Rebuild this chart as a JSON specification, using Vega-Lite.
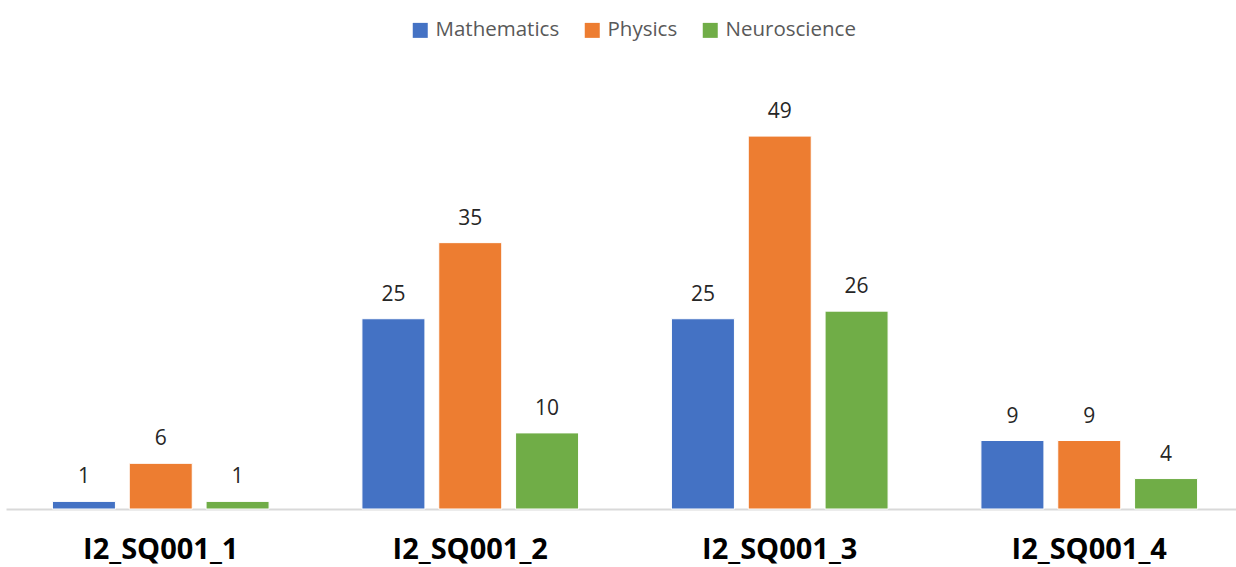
{
  "$schema": "https://vega.github.io/schema/vega-lite/v6.json",
  "width": 1238,
  "height": 449,
  "autosize": "none",
  "padding": {"left": 6, "right": -8, "top": 60, "bottom": 58},
  "background": "white",
  "data": {"values": [
    {"q": "I2_SQ001_1", "field": "Mathematics", "n": 1},
    {"q": "I2_SQ001_1", "field": "Physics", "n": 6},
    {"q": "I2_SQ001_1", "field": "Neuroscience", "n": 1},
    {"q": "I2_SQ001_2", "field": "Mathematics", "n": 25},
    {"q": "I2_SQ001_2", "field": "Physics", "n": 35},
    {"q": "I2_SQ001_2", "field": "Neuroscience", "n": 10},
    {"q": "I2_SQ001_3", "field": "Mathematics", "n": 25},
    {"q": "I2_SQ001_3", "field": "Physics", "n": 49},
    {"q": "I2_SQ001_3", "field": "Neuroscience", "n": 26},
    {"q": "I2_SQ001_4", "field": "Mathematics", "n": 9},
    {"q": "I2_SQ001_4", "field": "Physics", "n": 9},
    {"q": "I2_SQ001_4", "field": "Neuroscience", "n": 4}
  ]},
  "encoding": {
    "x": {"field": "q", "type": "nominal", "sort": null,
      "scale": {"paddingInner": 0.3, "paddingOuter": 0.15},
      "axis": {"title": null, "labelAngle": 0, "ticks": false, "domainColor": "#D9D9D9", "domainWidth": 2,
        "labelFont": "Open Sans", "labelFontWeight": "bold", "labelFontSize": 29, "labelColor": "#000000", "labelPadding": 26}},
    "xOffset": {"field": "field", "type": "nominal", "sort": ["Mathematics", "Physics", "Neuroscience"],
      "scale": {"paddingInner": 0.18, "paddingOuter": 0}},
    "y": {"field": "n", "type": "quantitative", "scale": {"domain": [0, 59], "nice": false}, "axis": null}
  },
  "layer": [
    {
      "mark": {"type": "bar", "stroke": "white", "strokeWidth": 1},
      "encoding": {
        "color": {"field": "field", "type": "nominal", "sort": ["Mathematics", "Physics", "Neuroscience"],
          "scale": {"domain": ["Mathematics", "Physics", "Neuroscience"], "range": ["#4472C4", "#ED7D31", "#70AD47"]},
          "legend": {"title": null, "orient": "none", "legendX": 404, "legendY": -40, "direction": "horizontal",
            "symbolType": "square", "symbolSize": 225, "symbolStrokeWidth": 0, "labelFont": "Open Sans", "labelFontSize": 20.5,
            "labelColor": "#595959", "labelOffset": 5, "columnPadding": 22}}
      }
    },
    {
      "mark": {"type": "text", "baseline": "bottom", "dy": -14, "font": "Open Sans", "fontSize": 21, "color": "#262626"},
      "encoding": {"text": {"field": "n", "type": "quantitative"}}
    }
  ],
  "config": {"view": {"stroke": null}}
}
